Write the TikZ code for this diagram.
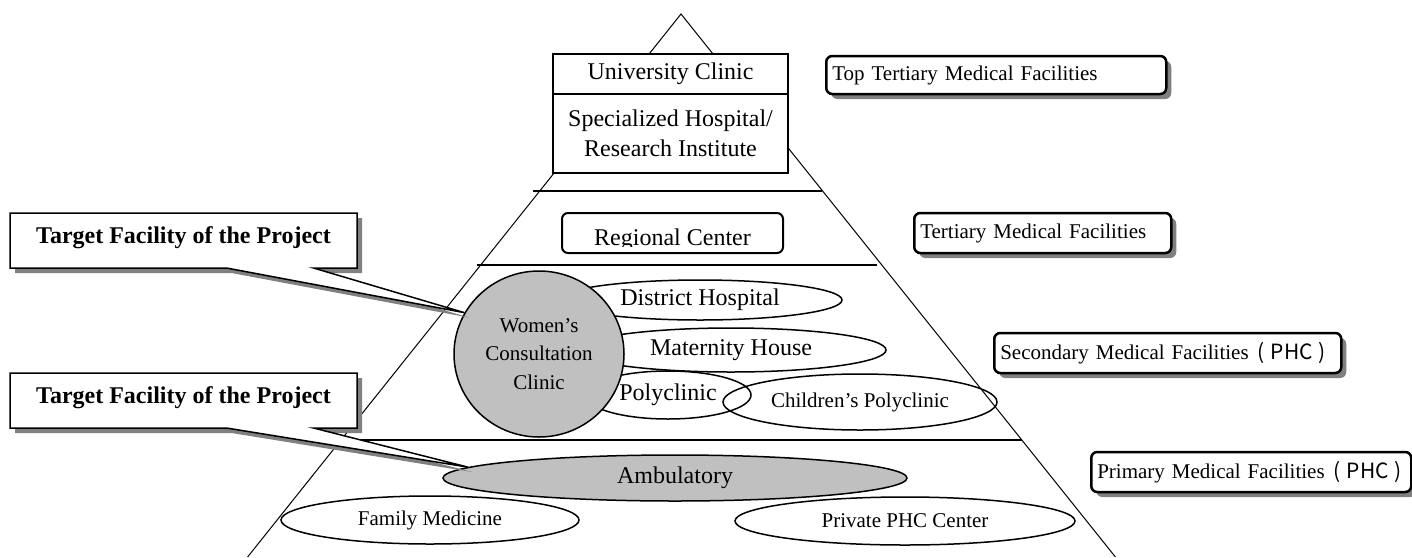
\documentclass[tikz,border=0pt]{standalone}
\usepackage{fontspec}
\setmainfont{Liberation Serif}
\newfontfamily\cjk{Noto Sans CJK SC}
\usepackage{tikz}
\usetikzlibrary{shapes.geometric, shapes.callouts, positioning, shadows}
\definecolor{silver}{HTML}{C0C0C0}
\definecolor{shadowgray}{HTML}{808080}
\newcommand{\bigtxt}{\fontsize{24pt}{30pt}\selectfont}
\newcommand{\smalltxt}{\fontsize{21pt}{28.5pt}\selectfont}
\newcommand{\phc}{\hspace{9pt}{\cjk (\hspace{6pt}PHC\hspace{6pt})}}

\begin{document}
\begin{tikzpicture}[
      x=1pt, y=-1pt,
      edge/.style={line width=1pt},
      tier/.style={line width=2pt},
      tower/.style={
        draw,
        line width=1.5pt,
        fill=white,
        minimum width=235pt,
        outer sep=0pt,
        align=center,
        font=\bigtxt,
      },
      unit/.style={
        ellipse,
        draw,
        line width=1.5pt,
        inner sep=0pt,
        font=\bigtxt,
      },
      level/.style={
        draw,
        line width=2.5pt,
        rounded corners=6pt,
        fill=white,
        drop shadow={shadow xshift=5pt, shadow yshift=-5pt, opacity=1, fill=shadowgray},
        minimum height=40pt,
        inner xsep=6pt,
        align=left,
        anchor=west,
        font=\smalltxt,
      },
      target/.style={
        rectangle callout,
        draw,
        line width=1.5pt,
        fill=white,
        drop shadow={shadow xshift=5pt, shadow yshift=-5pt, opacity=1, fill=shadowgray},
        minimum width=347pt,
        inner ysep=0pt,
        text height=30pt,
        text depth=25pt,
        callout pointer width=87pt,
        font=\bigtxt\bfseries,
      },
      ]
      \useasboundingbox (0,0) rectangle (1412,557);
      \coordinate (apex) at (681,14);
      \coordinate (bl) at (247.6,557);
      \coordinate (br) at (1115.4,557);
      \draw[edge] (bl) -- (apex) -- (br);
      \draw[tier] (533,191) -- (822,191);
      \draw[tier] (477,265) -- (877,265);
      \draw[tier] (343,440) -- (1022,440);

      \node[tower, minimum height=40pt] (uni) at (670.5,74) {University Clinic};
      \node[tower, minimum height=79pt, below=0pt of uni] (spec) {Specialized Hospital/\\Research Institute};

      \node[draw, line width=2pt, rounded corners=6pt, minimum width=221pt, minimum height=40pt, outer sep=0pt] (reg) at (672.5,233) {};
      \begin{scope}
        \clip (reg.north west) rectangle ([yshift=7pt]reg.south east);
        \node[font=\bigtxt, anchor=base] (regtext) at ([yshift=8pt]reg.south) {Regional Center};
      \end{scope}

      \node[unit, minimum width=284pt, minimum height=40pt] (dist) at (700,300) {District Hospital};
      \node[unit, minimum width=310pt, minimum height=44pt] (mat) at (731,350) {Maternity House};
      \node[unit, minimum width=166pt, minimum height=48pt] (poly) at (668,395) {Polyclinic};
      \node[unit, minimum width=274pt, minimum height=56pt, font=\smalltxt] (child) at (860,402) {Children’s Polyclinic};
      \node[unit, fill=silver, minimum width=170pt, minimum height=166pt, align=center, font=\smalltxt] (wcc) at (539,354) {Women’s\\Consultation\\Clinic};

      \node[unit, minimum width=298pt, minimum height=48pt, font=\smalltxt] (fam) at (430,520) {Family Medicine};
      \node[unit, minimum width=340pt, minimum height=48pt, font=\smalltxt] (priv) at (905,521) {Private PHC Center};
      \node[unit, fill=silver, minimum width=464pt, minimum height=46pt] (amb) at (675,478) {Ambulatory};

      \node[level, minimum height=38pt, text width=328pt] (toptert) at (825,75) {Top Tertiary Medical Facilities};
      \node[level, text width=245pt] (tert) at (913,233) {Tertiary Medical Facilities};
      \node[level, text width=335pt] (second) at (993,353) {\mbox{Secondary Medical Facilities\phc}};
      \node[level, text width=308pt] (primary) at (1090,472) {\mbox{Primary Medical Facilities\phc}};

      \node[target, callout absolute pointer={(wcc.151)}] (target1) at (183.5,240.5) {Target Facility of the Project};
      \node[target, callout absolute pointer={(amb.177)}] (target2) at (183.5,400.5) {Target Facility of the Project};
    \end{tikzpicture}
\end{document}
